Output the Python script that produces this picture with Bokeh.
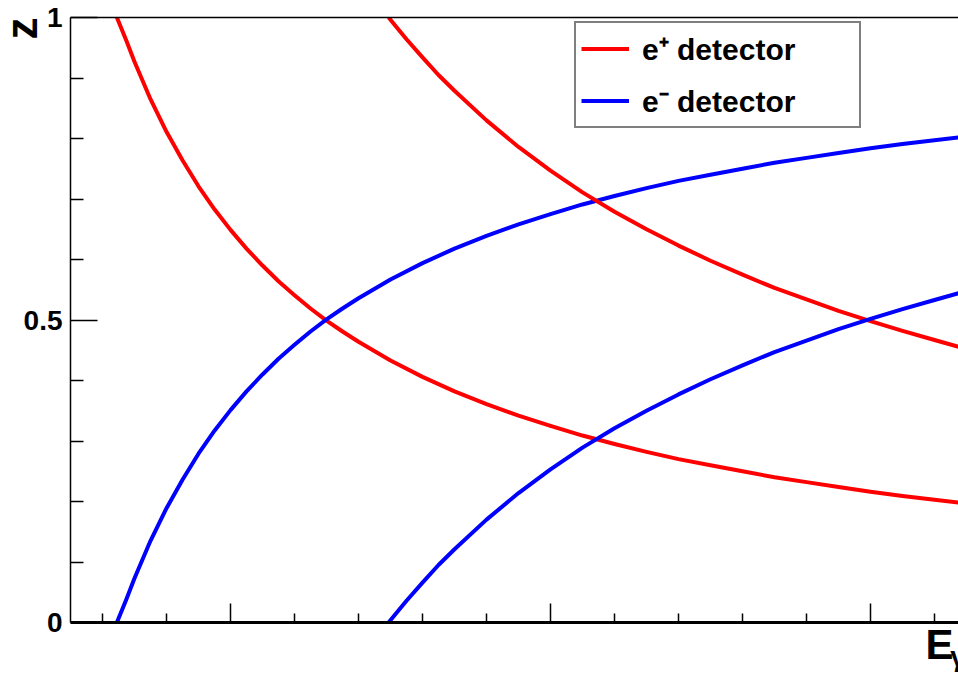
import math
from bokeh.plotting import figure
from bokeh.models import Range1d, FixedTicker, LinearAxis, Title, Legend, LegendItem
from bokeh.embed import file_html
from bokeh.resources import INLINE

# ---- data ----
e_pos1 = [0.645, 0.675, 0.70, 0.75, 0.80, 0.85, 0.90, 0.95, 1.00,
          1.05, 1.10, 1.15, 1.20, 1.25, 1.30, 1.35, 1.40,
          1.5, 1.6, 1.7, 1.8, 1.9, 2.0,
          2.1, 2.2, 2.3, 2.4, 2.5, 2.6, 2.7, 2.8, 2.9, 3.0,
          3.1, 3.2, 3.28]
z_pos1 = [1.0, 0.961, 0.927, 0.865, 0.811, 0.764, 0.721, 0.683, 0.649,
          0.618, 0.590, 0.564, 0.541, 0.519, 0.499, 0.481, 0.464,
          0.433, 0.406, 0.382, 0.361, 0.342, 0.325,
          0.309, 0.295, 0.282, 0.270, 0.260, 0.250, 0.240, 0.232, 0.224, 0.216,
          0.209, 0.203, 0.198]
z_neg1 = [0.0, 0.039, 0.073, 0.135, 0.189, 0.236, 0.279, 0.317, 0.351,
          0.382, 0.410, 0.436, 0.459, 0.481, 0.501, 0.519, 0.536,
          0.567, 0.594, 0.618, 0.639, 0.658, 0.675,
          0.691, 0.705, 0.718, 0.730, 0.740, 0.750, 0.760, 0.768, 0.776, 0.784,
          0.791, 0.797, 0.802]

e_pos2 = [1.494, 1.55, 1.60, 1.65, 1.70, 1.8, 1.9, 2.0, 2.1, 2.2, 2.3, 2.4, 2.5,
          2.6, 2.7, 2.8, 2.9, 3.0, 3.1, 3.2, 3.28]
z_pos2 = [1.0, 0.964, 0.934, 0.905, 0.879, 0.830, 0.786, 0.747, 0.711, 0.679, 0.650,
          0.623, 0.598, 0.575, 0.553, 0.534, 0.515, 0.498, 0.482, 0.467, 0.455]
z_neg2 = [0.0, 0.036, 0.066, 0.095, 0.121, 0.170, 0.214, 0.253, 0.289, 0.321, 0.350,
          0.377, 0.402, 0.425, 0.447, 0.466, 0.485, 0.502, 0.518, 0.533, 0.545]

x_major = [1, 2, 3]
x_minor = [0.6, 0.8, 1.2, 1.4, 1.6, 1.8, 2.2, 2.4, 2.6, 2.8, 3.2]
y_major = [0, 0.5, 1]
y_minor = [0.1, 0.2, 0.3, 0.4, 0.6, 0.7, 0.8, 0.9]
y_labels = {0: "0", 0.5: "0.5", 1: "1"}
labels = ["e\u207a detector", "e\u207b detector"]
y_title = "z"
x_title = "E"
x_title_sub = "\u03b3"
x_title_sub_at = 3.2734        # where the subscript sits along the x axis
sub_guard = [1.0, 3.2745]      # empty neighbours so the subscript is not pushed inward

FONT = "Liberation Sans"
TFONT = "Liberation Sans Narrow, Liberation Sans"

p = figure(width=958, height=674, output_backend="svg", toolbar_location=None,
           x_range=Range1d(0.5, 3.275), y_range=Range1d(0, 1),
           min_border_left=70, min_border_right=0, min_border_top=17, min_border_bottom=52)
p.grid.visible = False
p.outline_line_color = None
p.background_fill_color = "white"
p.border_fill_color = "white"

# y axis
ya = p.yaxis[0]
ya.ticker = FixedTicker(ticks=y_major, minor_ticks=y_minor)
ya.major_label_overrides = y_labels
ya.axis_line_width = 1.5
ya.axis_line_color = "black"
ya.major_tick_in = 27
ya.major_tick_out = 0
ya.minor_tick_in = 13
ya.minor_tick_out = 0
ya.major_tick_line_width = 1.5
ya.minor_tick_line_width = 1.5
ya.major_tick_line_color = "black"
ya.minor_tick_line_color = "black"
ya.major_label_text_font = FONT
ya.major_label_text_font_style = "bold"
ya.major_label_text_font_size = "28px"
ya.major_label_text_color = "black"
ya.major_label_standoff = 8

# x axis
xa = p.xaxis[0]
xa.ticker = FixedTicker(ticks=x_major, minor_ticks=x_minor)
xa.axis_line_width = 3
xa.axis_line_color = "black"
xa.major_tick_in = 19
xa.major_tick_out = 0
xa.minor_tick_in = 9
xa.minor_tick_out = 0
xa.major_tick_line_width = 1.5
xa.minor_tick_line_width = 1.5
xa.major_tick_line_color = "black"
xa.minor_tick_line_color = "black"
xa.major_label_text_font_size = "0px"
xa.major_label_standoff = 0

# top frame line
top = LinearAxis(ticker=FixedTicker(ticks=[]), axis_line_width=1.5, axis_line_color="black",
                 major_tick_in=0, major_tick_out=0, minor_tick_in=0, minor_tick_out=0,
                 major_label_text_font_size="0px", major_label_standoff=0)
p.add_layout(top, "above")

LW = 4
r1 = p.line(e_pos1, z_pos1, line_color="#ff0000", line_width=LW, line_join="round")
b1 = p.line(e_pos1, z_neg1, line_color="#0000ff", line_width=LW, line_join="round")
r2 = p.line(e_pos2, z_pos2, line_color="#ff0000", line_width=LW, line_join="round")
b2 = p.line(e_pos2, z_neg2, line_color="#0000ff", line_width=LW, line_join="round")

legend = Legend(items=[LegendItem(label=labels[0], renderers=[r1]),
                       LegendItem(label=labels[1], renderers=[b1])],
                location=(504, 494), orientation="vertical",
                border_line_color="black", border_line_width=2,
                background_fill_color="white", background_fill_alpha=1.0,
                padding=5, spacing=11, margin=0,
                glyph_width=48, glyph_height=33, label_height=33, label_width=212,
                label_standoff=13, label_text_font=FONT, label_text_font_style="bold",
                label_text_font_size="30px", label_text_color="black")
p.add_layout(legend, "center")

# y title at the top end of the axis (ROOT style)
zt = Title(text=y_title, align="right", vertical_align="bottom", offset=0, standoff=-50,
           text_font=TFONT, text_font_style="bold", text_font_size="44px",
           text_color="black")
p.add_layout(zt, "left")

# x title at the right end of the axis
et = Title(text=x_title, align="left", vertical_align="top", offset=855, standoff=-4,
           text_font=TFONT, text_font_style="bold", text_font_size="42px",
           text_color="black")
p.add_layout(et, "below")

# subscript of the x title, carried by a bare axis
sub_labels = {sub_guard[0]: "", x_title_sub_at: x_title_sub, sub_guard[1]: ""}
sub = LinearAxis(ticker=FixedTicker(ticks=[sub_guard[0], x_title_sub_at, sub_guard[1]]),
                 major_label_overrides=sub_labels,
                 axis_line_color=None, major_tick_in=0, major_tick_out=0,
                 minor_tick_in=0, minor_tick_out=0, major_tick_line_color=None,
                 minor_tick_line_color=None,
                 major_label_text_font=FONT, major_label_text_font_style="bold",
                 major_label_text_font_size="28px", major_label_text_color="black",
                 major_label_standoff=-27)
p.add_layout(sub, "below")

open("out.html", "w").write(file_html(p, INLINE))
